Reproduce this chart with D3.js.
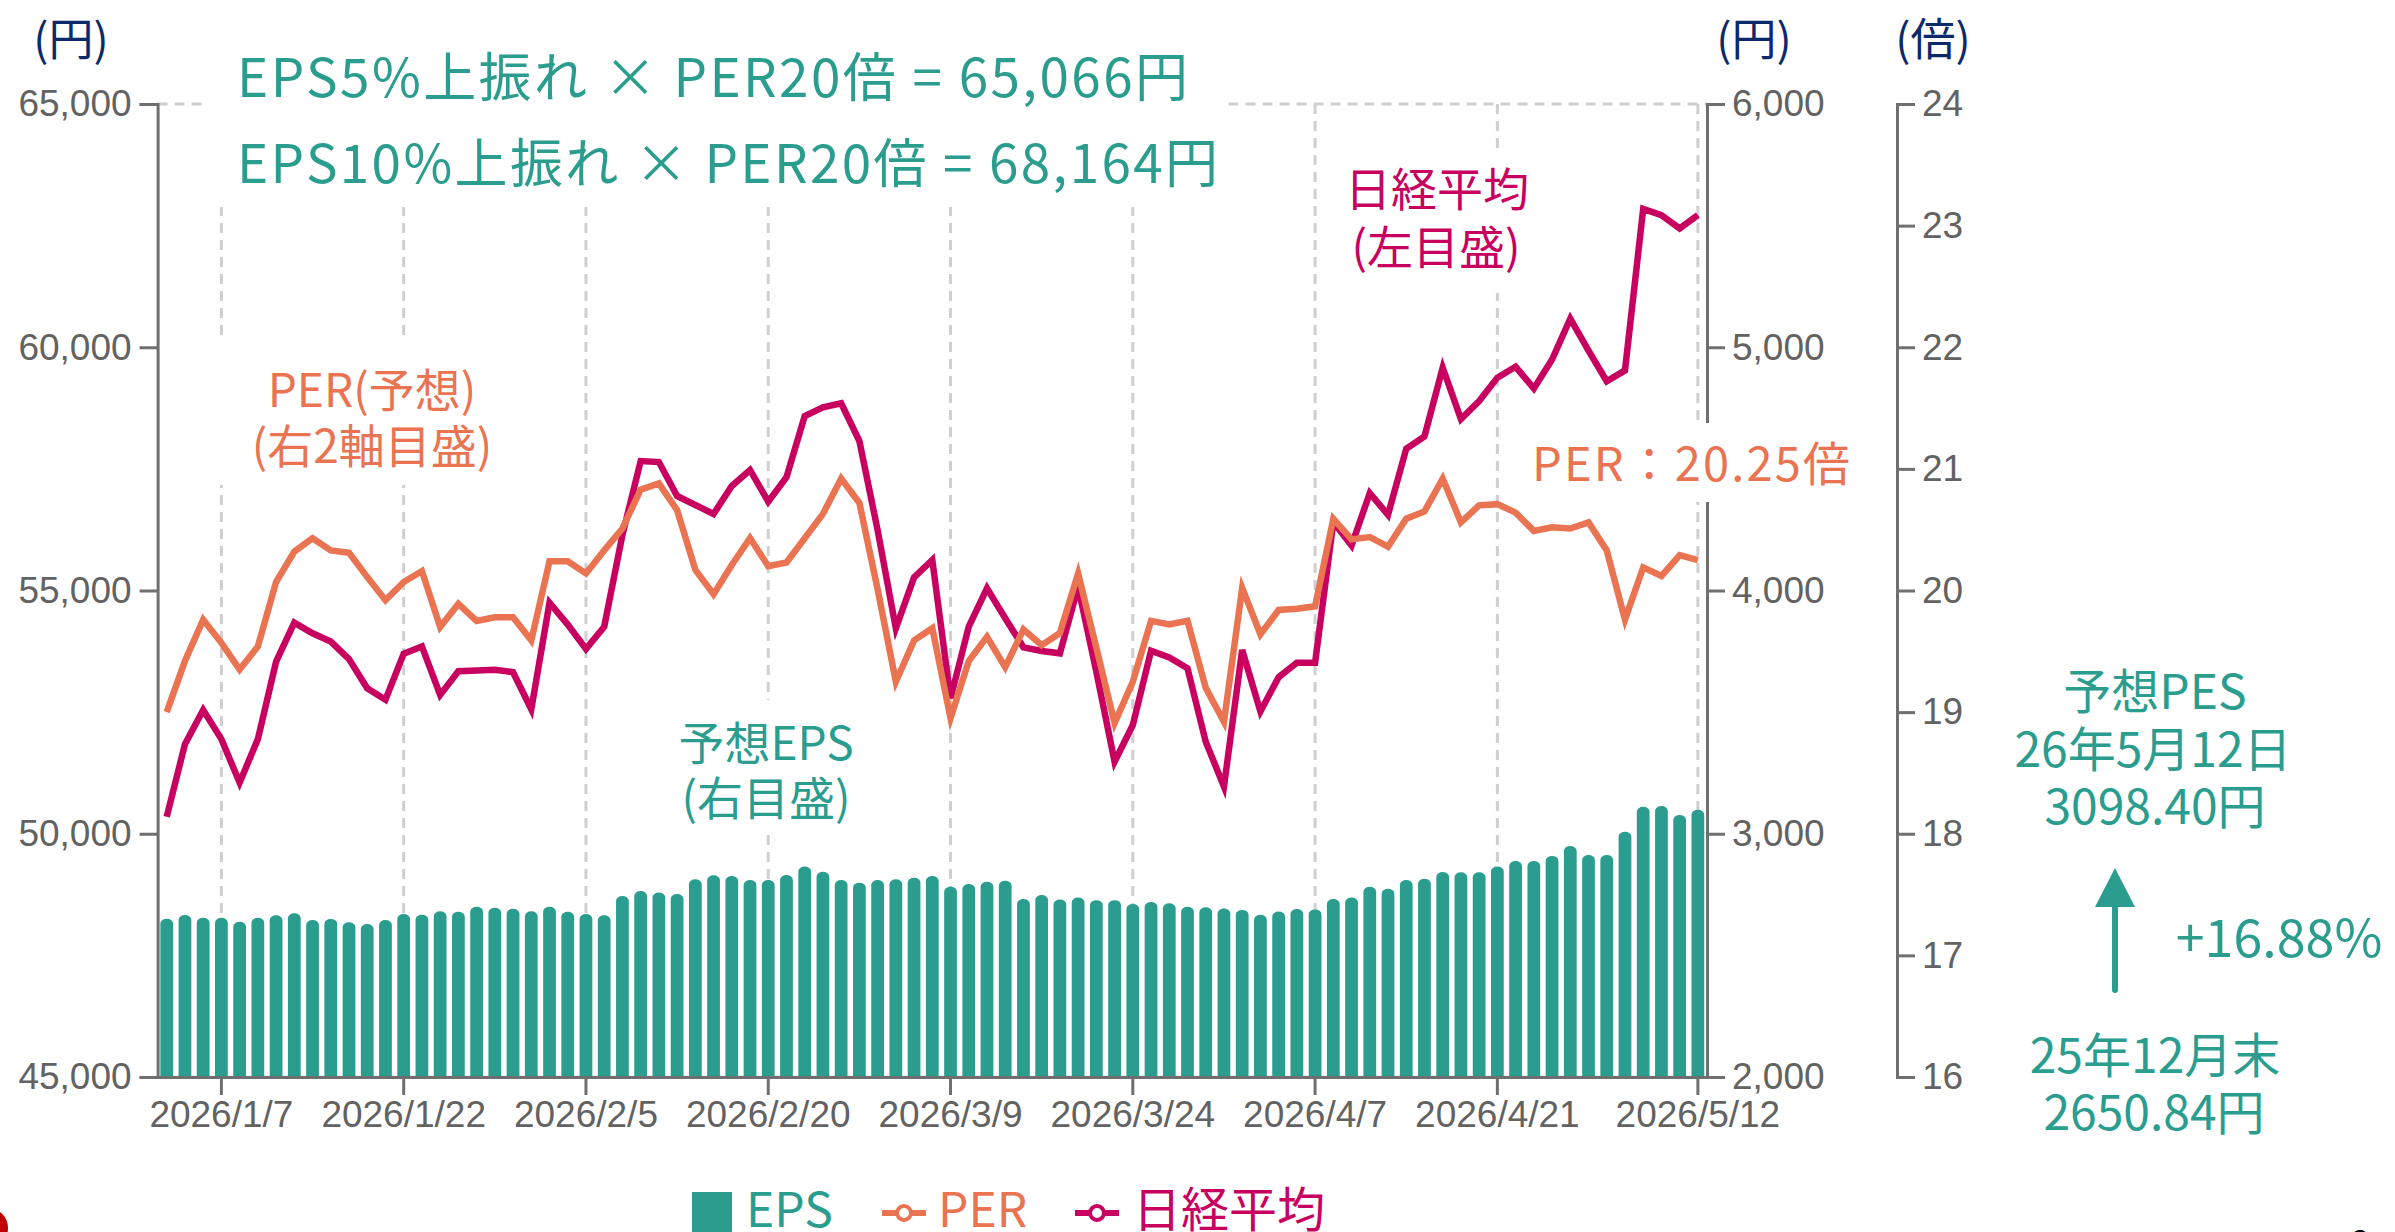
<!DOCTYPE html>
<html>
<head>
<meta charset="utf-8">
<script src="https://cdn.jsdelivr.net/npm/d3@7"></script>
<style>
  body { margin: 0; background: #fff; }
  svg text { font-family: "Noto Sans CJK JP", "Noto Sans", sans-serif; }
</style>
</head>
<body>
<svg id="chart" width="2395" height="1232"></svg>
<script>
"use strict";

// trading days, 25/12/30 .. 26/5/12
var dates = ["2025/12/30",
  "2026/1/5", "2026/1/6", "2026/1/7", "2026/1/8", "2026/1/9", "2026/1/13", "2026/1/14", "2026/1/15", "2026/1/16",
  "2026/1/19", "2026/1/20", "2026/1/21", "2026/1/22", "2026/1/23", "2026/1/26", "2026/1/27", "2026/1/28", "2026/1/29", "2026/1/30",
  "2026/2/2", "2026/2/3", "2026/2/4", "2026/2/5", "2026/2/6", "2026/2/9", "2026/2/10", "2026/2/12", "2026/2/13", "2026/2/16",
  "2026/2/17", "2026/2/18", "2026/2/19", "2026/2/20", "2026/2/24", "2026/2/25", "2026/2/26", "2026/2/27", "2026/3/2", "2026/3/3",
  "2026/3/4", "2026/3/5", "2026/3/6", "2026/3/9", "2026/3/10", "2026/3/11", "2026/3/12", "2026/3/13", "2026/3/16", "2026/3/17",
  "2026/3/18", "2026/3/19", "2026/3/23", "2026/3/24", "2026/3/25", "2026/3/26", "2026/3/27", "2026/3/30", "2026/3/31", "2026/4/1",
  "2026/4/2", "2026/4/3", "2026/4/6", "2026/4/7", "2026/4/8", "2026/4/9", "2026/4/10", "2026/4/13", "2026/4/14", "2026/4/15",
  "2026/4/16", "2026/4/17", "2026/4/20", "2026/4/21", "2026/4/22", "2026/4/23", "2026/4/24", "2026/4/27", "2026/4/28", "2026/4/30",
  "2026/5/1", "2026/5/7", "2026/5/8", "2026/5/11", "2026/5/12"];

// 予想EPS (円, right axis)
var eps = [2650.84,
  2666, 2655, 2655, 2638, 2655, 2665, 2673, 2645, 2650,
  2636, 2629, 2645, 2670, 2667, 2681, 2679, 2700, 2696, 2692,
  2681, 2700, 2679, 2670, 2665, 2744, 2765, 2758, 2752, 2813,
  2829, 2826, 2810, 2810, 2830, 2865, 2844, 2810, 2799, 2810,
  2813, 2819, 2826, 2782, 2793, 2803, 2807, 2732, 2748, 2730,
  2738, 2727, 2727, 2711, 2719, 2714, 2700, 2698, 2693, 2687,
  2667, 2680, 2691, 2689, 2732, 2738, 2782, 2774, 2810, 2815,
  2843, 2842, 2842, 2865, 2888, 2888, 2909, 2950, 2913, 2913,
  3008, 3111, 3114, 3077, 3098.40];

// PER (倍, second right axis)
var per = [19.00,
  19.42, 19.76, 19.57, 19.35, 19.54, 20.07, 20.32, 20.43, 20.33,
  20.31, 20.11, 19.92, 20.07, 20.16, 19.70, 19.89, 19.75, 19.78, 19.78,
  19.59, 20.24, 20.24, 20.14, 20.33, 20.51, 20.83, 20.88, 20.66, 20.17,
  19.97, 20.21, 20.43, 20.20, 20.23, 20.43, 20.63, 20.92, 20.72, 20.01,
  19.25, 19.59, 19.69, 18.95, 19.42, 19.62, 19.37, 19.68, 19.55, 19.65,
  20.14, 19.53, 18.91, 19.25, 19.75, 19.72, 19.75, 19.20, 18.92, 20.02,
  19.64, 19.84, 19.85, 19.87, 20.59, 20.42, 20.44, 20.36, 20.59, 20.65,
  20.92, 20.56, 20.70, 20.71, 20.64, 20.49, 20.52, 20.51, 20.56, 20.33,
  19.76, 20.19, 20.12, 20.29, 20.25];

// 日経平均 (円, left axis)
var nikkei = [50350,
  51840, 52544, 51945, 51050, 51945, 53537, 54340, 54120, 53950,
  53590, 52990, 52755, 53700, 53850, 52852, 53340, 53355, 53370, 53320,
  52560, 54750, 54300, 53800, 54256, 56141, 57660, 57640, 56943, 56758,
  56573, 57149, 57477, 56826, 57327, 58587, 58765, 58847, 58073, 56243,
  54223, 55271, 55627, 52784, 54256, 55045, 54429, 53832, 53756, 53709,
  55078, 53331, 51481, 52235, 53763, 53626, 53400, 51892, 50967, 53776,
  52513, 53218, 53514, 53514, 56408, 55925, 57002, 56556, 57914, 58167,
  59578, 58523, 58895, 59376, 59598, 59154, 59748, 60587, 59933, 59302,
  59524, 62842, 62716, 62441, 62716];

var tickDates = ["2026/1/7", "2026/1/22", "2026/2/5", "2026/2/20", "2026/3/9",
                 "2026/3/24", "2026/4/7", "2026/4/21", "2026/5/12"];
var nikkeiTicks = [45000, 50000, 55000, 60000, 65000];
var epsTicks = [2000, 3000, 4000, 5000, 6000];
var perTicks = [16, 17, 18, 19, 20, 21, 22, 23, 24];

var TEAL = "#2a9d8f", ORANGE = "#ea7352", CRIMSON = "#c8005f", NAVY = "#0c2a6a";
var AXIS = "#6f6f6f", GRID = "#cfcfcf";

var plotL = 157.6, plotR = 1707, plotT = 104, plotB = 1077, axis2X = 1897;

var svg = d3.select("#chart");

var x = d3.scaleBand().domain(dates).range([plotL, plotR]).paddingInner(0.3).paddingOuter(0.15);
var cx = function(d) { return x(d) + x.bandwidth() / 2; };
var yN = d3.scaleLinear().domain([45000, 65000]).range([plotB, plotT]);
var yE = d3.scaleLinear().domain([2000, 6000]).range([plotB, plotT]);
var yP = d3.scaleLinear().domain([16, 24]).range([plotB, plotT]);

// grid: dashed top border + verticals at the date ticks
var grid = svg.append("g");
grid.append("line")
    .attr("x1", plotL).attr("x2", plotR).attr("y1", plotT).attr("y2", plotT)
    .attr("stroke", GRID).attr("stroke-width", 3).attr("stroke-dasharray", "10,7");
grid.selectAll(".vgrid").data(tickDates).enter().append("line")
    .attr("x1", cx).attr("x2", cx).attr("y1", plotT).attr("y2", plotB)
    .attr("stroke", GRID).attr("stroke-width", 3).attr("stroke-dasharray", "10,7");

// EPS bars with rounded tops
function barPath(x0, y0, w, h) {
  var ry = 5;
  return "M" + x0 + "," + (y0 + h) + "V" + (y0 + ry) +
         "A" + (w / 2) + "," + ry + " 0 0 1 " + (x0 + w) + "," + (y0 + ry) +
         "V" + (y0 + h) + "Z";
}
svg.append("g").selectAll("path").data(eps).enter().append("path")
   .attr("d", function(d, i) {
     var y0 = yE(d);
     return barPath(x(dates[i]), y0, x.bandwidth(), plotB - y0);
   })
   .attr("fill", TEAL);

function styleAxis(g) {
  g.select(".domain").attr("stroke", AXIS).attr("stroke-width", 3);
  g.selectAll(".tick line").attr("stroke", AXIS).attr("stroke-width", 3);
  g.selectAll(".tick text")
   .attr("fill", "#626262")
   .style("font-family", "'Liberation Sans', Arial, sans-serif")
   .style("font-size", "37px");
}

svg.append("g")
   .attr("transform", "translate(0," + plotB + ")")
   .call(d3.axisBottom(x).tickValues(tickDates).tickSize(18).tickSizeOuter(0).tickPadding(6))
   .call(styleAxis);

svg.append("g")
   .attr("transform", "translate(" + plotL + ",0)")
   .call(d3.axisLeft(yN).tickValues(nikkeiTicks).tickSize(18).tickPadding(8).tickFormat(d3.format(",")))
   .call(styleAxis);

svg.append("g")
   .attr("transform", "translate(" + plotR + ",0)")
   .call(d3.axisRight(yE).tickValues(epsTicks).tickSize(18).tickPadding(7).tickFormat(d3.format(",")))
   .call(styleAxis);

svg.append("g")
   .attr("transform", "translate(" + axis2X + ",0)")
   .call(d3.axisRight(yP).tickValues(perTicks).tickSize(18).tickPadding(7))
   .call(styleAxis);

// lines
var nikkeiLine = d3.line().x(function(d, i) { return cx(dates[i]); }).y(function(d) { return yN(d); });
var perLine = d3.line().x(function(d, i) { return cx(dates[i]); }).y(function(d) { return yP(d); });

svg.append("path").datum(nikkei).attr("d", nikkeiLine)
   .attr("fill", "none").attr("stroke", CRIMSON).attr("stroke-width", 6.5);
svg.append("path").datum(per).attr("d", perLine)
   .attr("fill", "none").attr("stroke", ORANGE).attr("stroke-width", 6.5);

// white boxes behind the annotations (they hide grid + axis bits)
var boxes = [
  [204, 10, 1019, 197],
  [214, 342, 300, 143],
  [668, 700, 200, 132],
  [1335, 150, 205, 143],
  [1522, 423, 340, 79]
];
svg.append("g").selectAll("rect").data(boxes).enter().append("rect")
   .attr("x", function(d) { return d[0]; }).attr("y", function(d) { return d[1]; })
   .attr("width", function(d) { return d[2]; }).attr("height", function(d) { return d[3]; })
   .attr("fill", "#fff");

function label(tx, ty, str, color, size, anchor, len) {
  var t = svg.append("text")
     .attr("x", tx).attr("y", ty)
     .attr("fill", color)
     .attr("text-anchor", anchor || "start")
     .style("font-size", size + "px")
     .text(str);
  if (len) t.attr("textLength", len).attr("lengthAdjust", "spacing");
  return t;
}

// unit labels
label(71, 56, "(円)", NAVY, 45, "middle");
label(1754, 56, "(円)", NAVY, 45, "middle");
label(1933, 56, "(倍)", NAVY, 45, "middle");

// scenario text
label(237, 97, "EPS5%上振れ × PER20倍 = 65,066円", TEAL, 53, "start", 951);
label(237, 183, "EPS10%上振れ × PER20倍 = 68,164円", TEAL, 53, "start", 981);

// series notes
label(372, 407, "PER(予想)", ORANGE, 46, "middle");
label(372, 463, "(右2軸目盛)", ORANGE, 46, "middle");
label(1437, 206, "日経平均", CRIMSON, 46, "middle");
label(1436, 264, "(左目盛)", CRIMSON, 46, "middle");
label(766, 760, "予想EPS", TEAL, 46, "middle");
label(766, 815, "(右目盛)", TEAL, 46, "middle");
label(1532, 481, "PER：20.25倍", ORANGE, 47, "start", 318);

// EPS change on the right
label(2155, 709, "予想PES", TEAL, 48, "middle");
label(2153, 767, "26年5月12日", TEAL, 48, "middle");
label(2155, 824, "3098.40円", TEAL, 48, "middle");
label(2279, 957, "+16.88%", TEAL, 52, "middle");
label(2155, 1073, "25年12月末", TEAL, 48, "middle");
label(2154, 1130, "2650.84円", TEAL, 48, "middle");

svg.append("line")
   .attr("x1", 2115).attr("x2", 2115).attr("y1", 990).attr("y2", 904)
   .attr("stroke", TEAL).attr("stroke-width", 6).attr("stroke-linecap", "round");
svg.append("path")
   .attr("d", "M2115,868L2095,907L2135,907Z")
   .attr("fill", TEAL);

// legend
var lg = svg.append("g");
lg.append("rect").attr("x", 692).attr("y", 1192).attr("width", 40).attr("height", 40).attr("fill", TEAL);
label(746, 1227, "EPS", TEAL, 48, "start");
[[882, 938, ORANGE, "PER"], [1075, 1133, CRIMSON, "日経平均"]].forEach(function(l) {
  lg.append("line").attr("x1", l[0]).attr("x2", l[0] + 44).attr("y1", 1213).attr("y2", 1213)
    .attr("stroke", l[2]).attr("stroke-width", 6);
  lg.append("circle").attr("cx", l[0] + 22).attr("cy", 1213).attr("r", 7)
    .attr("fill", "#fff").attr("stroke", l[2]).attr("stroke-width", 4);
  label(l[1], 1227, l[3], l[2], 48, "start");
});

// page corner bits
svg.append("circle").attr("cx", -12).attr("cy", 1228).attr("r", 20).attr("fill", "#c00000");
svg.append("text").attr("x", 2352).attr("y", 1252).attr("fill", "#000")
   .style("font-size", "30px").style("font-weight", "bold").text("2");
</script>
</body>
</html>
